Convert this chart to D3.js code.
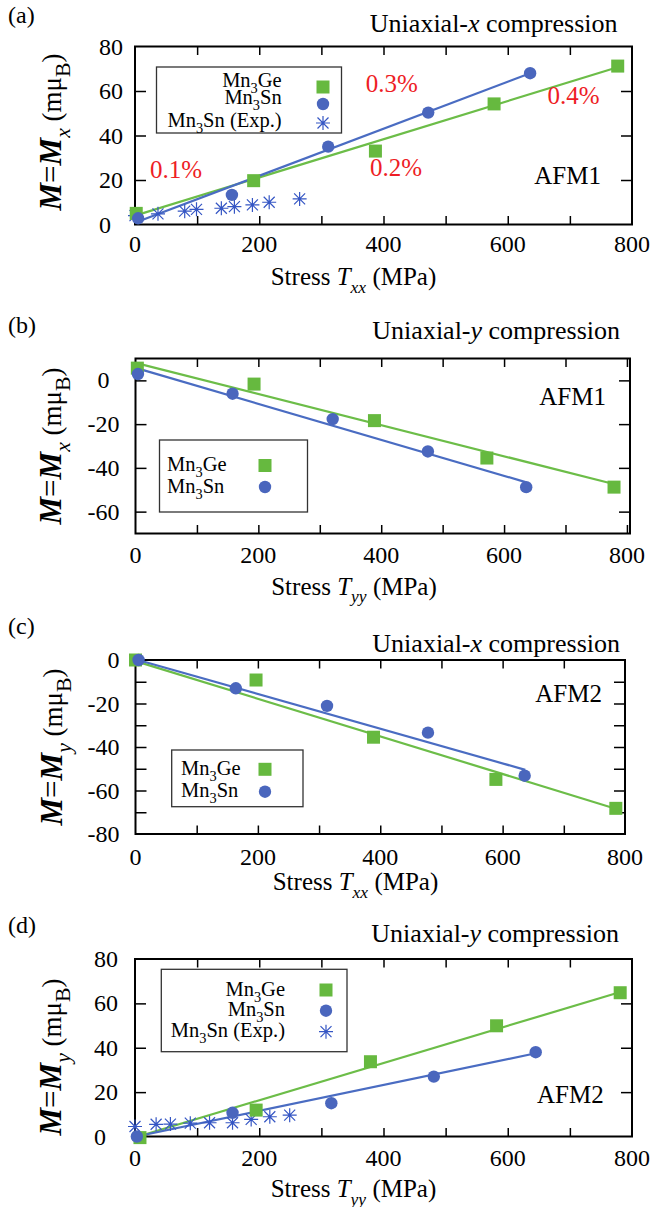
<!DOCTYPE html>
<html><head><meta charset="utf-8">
<script src="https://cdn.jsdelivr.net/npm/d3@7"></script>
<style>
body{margin:0;background:#fff}
svg{display:block}
text{font-family:"Liberation Serif","Times New Roman",Times,serif;fill:#000}
</style>
</head><body>
<svg id="chart" width="651" height="1207" font-family="Liberation Serif, Times New Roman, serif"></svg>
<script>
// ---------------- data ----------------
const xTickValues = [0, 200, 400, 600, 800];
const xMinorTicks = [0, 100, 200, 300, 400, 500, 600, 700, 800];
const panelTags = ["(a)", "(b)", "(c)", "(d)"];
const compressionAxis = ["x", "y", "x", "y"];
const phaseLabels = ["AFM1", "AFM1", "AFM2", "AFM2"];
const momentComponent = ["x", "x", "y", "y"];
const stressComponent = ["xx", "yy", "xx", "yy"];

const yTicksA = [0, 20, 40, 60, 80];
const yTicksB = [-60, -40, -20, 0];
const yTicksC = [-80, -60, -40, -20, 0];
const yTicksD = [0, 20, 40, 60, 80];
const yMinorA = [20, 40, 60];
const yMinorB = [-60, -40, -20, 0];
const yMinorC = [-70, -60, -50, -40, -30, -20, -10];
const yMinorD = [20, 40, 60];

// panel (a): uniaxial-x, AFM1, M_x
const aGeStress = [2, 191, 387, 578, 777];
const aGeM = [5, 19.7, 33, 54.2, 71.2];
const aSnStress = [5, 156, 311, 472, 636];
const aSnM = [2.8, 13.3, 35, 50.3, 68];
const aExpStress = [0, 37, 80, 99, 139, 160, 189, 216, 265];
const aExpM = [4, 4.8, 6, 6.8, 7.3, 8, 8.8, 10, 11.5];
const aGeFitStress = [0, 778];
const aGeFitM = [4, 70.8];
const aSnFitStress = [4, 636];
const aSnFitM = [1.2, 68];
const strainLabels = ["0.1%", "0.2%", "0.3%", "0.4%"];

// panel (b): uniaxial-y, AFM1, M_x
const bGeStress = [3, 193, 389, 572, 779];
const bGeM = [5.6, -1.7, -18.4, -35.5, -48.8];
const bSnStress = [4, 158, 321, 476, 636];
const bSnM = [2.9, -6.1, -17.7, -32.5, -48.8];
const bGeFitStress = [0, 780];
const bGeFitM = [8, -47.5];
const bSnFitStress = [3, 635];
const bSnFitM = [5.5, -46.5];

// panel (c): uniaxial-x, AFM2, M_y
const cGeStress = [0, 197, 389, 589, 785];
const cGeM = [0, -9.2, -35.5, -54.9, -68.2];
const cSnStress = [5, 164, 313, 478, 636];
const cSnM = [0, -13, -21.1, -33.4, -53.2];
const cGeFitStress = [0, 786];
const cGeFitM = [-0.5, -68.5];
const cSnFitStress = [4, 637];
const cSnFitM = [0, -50.5];

// panel (d): uniaxial-y, AFM2, M_y
const dGeStress = [8, 195, 379, 582, 781];
const dGeM = [-0.5, 11.9, 33.7, 49.9, 64.8];
const dSnStress = [3, 157, 316, 481, 645];
const dSnM = [0, 10.7, 15, 27, 38];
const dExpStress = [0, 34, 57, 89, 120, 157, 187, 217, 249];
const dExpM = [4.5, 5.5, 5.6, 6, 6.2, 6.2, 7.7, 8.9, 9.6];
const dGeFitStress = [5, 780];
const dGeFitM = [0, 65];
const dSnFitStress = [2, 645];
const dSnFitM = [0, 37.5];

// ---------------- styles ----------------
const GREEN = "#66b93f";
const GREEN_LINE = "#6cbd48";
const BLUE = "#4a66bd";
const BLUE_LINE = "#4a6cc2";
const STAR = "#3556c4";
const RED = "#ee1d25";

// ---------------- layout ----------------
const layout = [
  {left:135, right:632, top:46.5, bottom:224.5, xDom:[0,800], yDom:[0,80],
   yTicks:yTicksA, yMinor:yMinorA, tagY:23, titleRight:617.5, titleBase:32,
   phaseRight:601, phaseBase:184, xTickBase:252, xLabelCx:353.5, xLabelBase:285,
   yLabelX:61, yLabelCy:132, yTickAnchor:"start", yTickX:99,
   legend:{x:156.5, y:67, w:185, h:66, anchor:"end", textX:281.7,
           textBase:[86.5,103.5,126.5], symY:[87,104,123], symX:323}},
  {left:135.5, right:630, top:358.5, bottom:533.5, xDom:[0,805], yDom:[-70,10],
   yTicks:yTicksB, yMinor:yMinorB, tagY:333, titleRight:620, titleBase:338.7,
   phaseRight:606, phaseBase:405, xTickBase:563, xLabelCx:354, xLabelBase:594.5,
   yLabelX:61, yLabelCy:446, yTickAnchor:"middle", yTickX:103.5,
   legend:{x:159.5, y:440, w:148, h:72, anchor:"start", textX:167,
           textBase:[471,492.5], symY:[465.5,487], symX:265}},
  {left:135.5, right:625, top:660, bottom:834, xDom:[0,800], yDom:[-80,0],
   yTicks:yTicksC, yMinor:yMinorC, tagY:634, titleRight:620, titleBase:651.5,
   phaseRight:602, phaseBase:701.5, xTickBase:865, xLabelCx:355.5, xLabelBase:890,
   yLabelX:62, yLabelCy:747, yTickAnchor:"end", yTickX:119.5,
   legend:{x:171.7, y:750, w:131.3, h:56.7, anchor:"start", textX:181,
           textBase:[775,796.7], symY:[769.3,791.7], symX:265}},
  {left:135, right:632, top:959, bottom:1136.5, xDom:[0,800], yDom:[0,80],
   yTicks:yTicksD, yMinor:yMinorD, tagY:933, titleRight:619, titleBase:942,
   phaseRight:603.7, phaseBase:1103, xTickBase:1166, xLabelCx:353.5, xLabelBase:1197,
   yLabelX:61, yLabelCy:1057, yTickAnchor:"start", yTickX:94,
   legend:{x:161.3, y:969.3, w:185.7, h:82.4, anchor:"end", textX:285,
           textBase:[996,1016,1037.3], symY:[990,1010.7,1031.7], symX:326}}
];
const strainPos = [[150,178.3],[370,176],[365.7,92.3],[547.4,104]];

const series = [
  {ge:[aGeStress,aGeM], sn:[aSnStress,aSnM], exp:[aExpStress,aExpM], geFit:[aGeFitStress,aGeFitM], snFit:[aSnFitStress,aSnFitM]},
  {ge:[bGeStress,bGeM], sn:[bSnStress,bSnM], exp:null, geFit:[bGeFitStress,bGeFitM], snFit:[bSnFitStress,bSnFitM]},
  {ge:[cGeStress,cGeM], sn:[cSnStress,cSnM], exp:null, geFit:[cGeFitStress,cGeFitM], snFit:[cSnFitStress,cSnFitM]},
  {ge:[dGeStress,dGeM], sn:[dSnStress,dSnM], exp:[dExpStress,dExpM], geFit:[dGeFitStress,dGeFitM], snFit:[dSnFitStress,dSnFitM]}
];

const svg = d3.select("#chart");

function rich(textSel, parts, size) {
  let shift = 0;
  parts.forEach(p => {
    const ts = textSel.append("tspan").text(p.t);
    const target = p.sub ? size * 0.3 : 0;
    if (target !== shift) { ts.attr("dy", target - shift); shift = target; }
    ts.attr("font-size", p.sub ? size * 0.7 : (p.size || size));
    if (p.i) ts.attr("font-style", "italic");
    if (p.b) ts.attr("font-weight", "bold");
  });
}

function zip(a) { return a[0].map((v, i) => [v, a[1][i]]); }

const starPath = "M-7,0H7M0,-7V7M-5.5,-5.5L5.5,5.5M-5.5,5.5L5.5,-5.5";

function drawSquare(g, x, y) {
  g.append("rect").attr("x", x - 6.5).attr("y", y - 6.5).attr("width", 13).attr("height", 13).attr("fill", GREEN);
}
function drawCircle(g, x, y) {
  g.append("circle").attr("cx", x).attr("cy", y).attr("r", 6.2).attr("fill", BLUE);
}
function drawStar(g, x, y) {
  g.append("path").attr("d", starPath).attr("transform", `translate(${x},${y})`)
    .attr("fill", "none").attr("stroke", STAR).attr("stroke-width", 1.2);
}

layout.forEach((L, k) => {
  const g = svg.append("g");
  const x = d3.scaleLinear().domain(L.xDom).range([L.left, L.right]);
  const y = d3.scaleLinear().domain(L.yDom).range([L.bottom, L.top]);

  const xIn = xMinorTicks.filter(v => x(v) > L.left + 1 && x(v) < L.right - 1);
  const yIn = L.yMinor.filter(v => y(v) > L.top + 1 && y(v) < L.bottom - 1);
  const xb = d3.axisBottom(x).tickValues(xIn).tickSize(-8.5).tickFormat("");
  const xt = d3.axisTop(x).tickValues(xIn).tickSize(-8.5).tickFormat("");
  const yl = d3.axisLeft(y).tickValues(yIn).tickSize(-11).tickFormat("");
  const yr = d3.axisRight(y).tickValues(yIn).tickSize(-11).tickFormat("");
  [[xb, `translate(0,${L.bottom})`], [xt, `translate(0,${L.top})`], [yl, `translate(${L.left},0)`], [yr, `translate(${L.right},0)`]]
    .forEach(([ax, tr]) => {
      const a = g.append("g").attr("transform", tr).call(ax);
      a.select(".domain").remove();
      a.selectAll("line").attr("stroke", "#000").attr("stroke-width", 1.5);
    });

  // tick labels
  g.selectAll(null).data(xTickValues).enter().append("text")
    .attr("x", d => x(d)).attr("y", L.xTickBase).attr("text-anchor", "middle")
    .attr("font-size", 24).text(d => d);
  g.selectAll(null).data(L.yTicks).enter().append("text")
    .attr("x", L.yTickX).attr("y", d => y(d) + 8).attr("text-anchor", L.yTickAnchor)
    .attr("font-size", 24).text(d => d);

  // fit lines
  const line = d3.line().x(d => x(d[0])).y(d => y(d[1]));
  const S = series[k];
  g.append("path").attr("d", line(zip(S.geFit))).attr("fill", "none").attr("stroke", GREEN_LINE).attr("stroke-width", 2.2);
  g.append("path").attr("d", line(zip(S.snFit))).attr("fill", "none").attr("stroke", BLUE_LINE).attr("stroke-width", 2.2);

  // border
  g.append("rect").attr("x", L.left).attr("y", L.top).attr("width", L.right - L.left).attr("height", L.bottom - L.top)
    .attr("fill", "none").attr("stroke", "#000").attr("stroke-width", 2);

  // points
  if (S.exp) zip(S.exp).forEach(d => drawStar(g, x(d[0]), y(d[1])));
  zip(S.ge).forEach(d => drawSquare(g, x(d[0]), y(d[1])));
  zip(S.sn).forEach(d => drawCircle(g, x(d[0]), y(d[1])));

  // legend
  const Lg = L.legend;
  g.append("rect").attr("x", Lg.x).attr("y", Lg.y).attr("width", Lg.w).attr("height", Lg.h)
    .attr("fill", "#fff").attr("stroke", "#333").attr("stroke-width", 1.3);
  const entries = [
    [{t:"Mn"},{t:"3",sub:true},{t:"Ge"}],
    [{t:"Mn"},{t:"3",sub:true},{t:"Sn"}],
    [{t:"Mn"},{t:"3",sub:true},{t:"Sn (Exp.)"}]
  ];
  const n = S.exp ? 3 : 2;
  for (let i = 0; i < n; i++) {
    const t = g.append("text").attr("x", Lg.textX).attr("y", Lg.textBase[i]).attr("text-anchor", Lg.anchor);
    rich(t, entries[i], 20.5);
    if (i === 0) drawSquare(g, Lg.symX, Lg.symY[i]);
    else if (i === 1) drawCircle(g, Lg.symX, Lg.symY[i]);
    else drawStar(g, Lg.symX, Lg.symY[i]);
  }

  // panel tag
  g.append("text").attr("x", 8).attr("y", L.tagY).attr("font-size", 24).text(panelTags[k]);

  // title
  const tt = g.append("text").attr("x", L.titleRight).attr("y", L.titleBase).attr("text-anchor", "end");
  rich(tt, [{t:"Uniaxial-"},{t:compressionAxis[k], i:true},{t:" compression"}], 26);

  // phase label
  g.append("text").attr("x", L.phaseRight).attr("y", L.phaseBase).attr("text-anchor", "end")
    .attr("font-size", 25).text(phaseLabels[k]);

  // x label
  const xl = g.append("text").attr("x", L.xLabelCx).attr("y", L.xLabelBase).attr("text-anchor", "middle");
  rich(xl, [{t:"Stress "},{t:"T", i:true},{t:stressComponent[k], i:true, sub:true},{t:" (MPa)"}], 25);

  // y label
  const ylab = g.append("text").attr("transform", `translate(${L.yLabelX},${L.yLabelCy}) rotate(-90)`)
    .attr("text-anchor", "middle");
  rich(ylab, [{t:"M", i:true, b:true},{t:"="},{t:"M", i:true, b:true},{t:momentComponent[k], i:true, sub:true},
              {t:" (mμ", size:27},{t:"B", sub:true},{t:")", size:27}], 31);
});

// strain annotations in panel (a)
svg.selectAll(null).data(strainLabels).enter().append("text")
  .attr("x", (d, i) => strainPos[i][0]).attr("y", (d, i) => strainPos[i][1])
  .attr("font-size", 25).style("fill", RED).text(d => d);
</script>
</body></html>
